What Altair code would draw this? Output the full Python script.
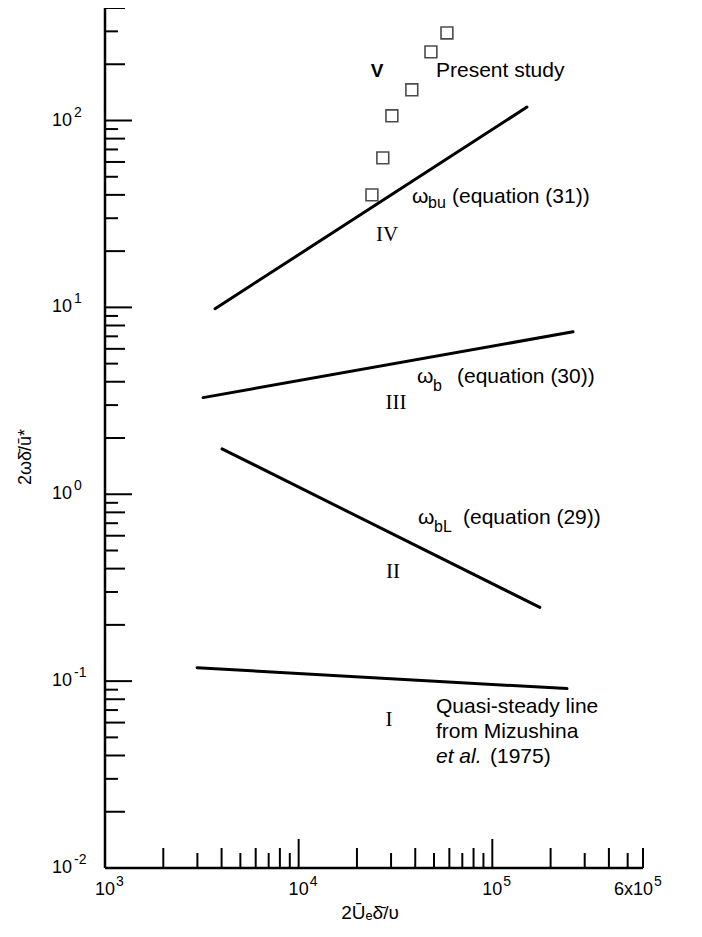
import altair as alt
import pandas as pd

# ---------------- data ----------------
X_DOMAIN = [1e3, 6e5]
Y_DOMAIN = [1e-2, 400]

line_names = ["I", "II", "III", "IV"]
line_x_start = [2990, 4020, 3210, 3700]
line_x_end = [243000, 176000, 261000, 151000]
line_y_start = [0.118, 1.75, 3.29, 9.83]
line_y_end = [0.0912, 0.248, 7.40, 118]

study_x = [23900, 27200, 30300, 38400, 48200, 58300]
study_y = [40.0, 63.1, 106, 146, 233, 294]

y_label_values = [0.01, 0.1, 1, 10, 100]
y_label_exps = ["-2", "-1", "0", "1", "2"]
x_label_values = [1e3, 1e4, 1e5, 6e5]
x_label_bases = ["10", "10", "10", "6x10"]
x_label_exps = ["3", "4", "5", "5"]

y_title = "2ωδ̄/ū*"
x_title = "2Ūₑδ̄/υ"

# annotation texts and their anchors (data units)
sans_texts = ["Present study", "ω", "(equation (31))", "ω", "(equation (30))",
              "ω", "(equation (29))", "Quasi-steady line", "from Mizushina", "(1975)"]
sans_x = [51200, 38480, 61900, 40840, 65700, 41320, 70580, 51200, 51200, 97300]
sans_y = [184, 39.0, 39.0, 4.255, 4.255, 0.7497, 0.7497, 0.0731, 0.0531, 0.0395]

sub_texts = ["bu", "b", "bL"]
sub_x = [46550, 49400, 49990]
sub_y = [36.0, 3.80, 0.665]

italic_texts = ["et al."]
italic_x = [51200]
italic_y = [0.0395]

roman_texts = ["IV", "III", "II", "I"]
roman_x = [28600, 31810, 30700, 29270]
roman_y = [24.4, 3.09, 0.3857, 0.0623]

bold_texts = ["V"]
bold_x = [25380]
bold_y = [184]

# ---------------- build chart ----------------
W, H = 538, 860
SANS = "Liberation Sans"
SERIF = "Liberation Serif"

xs = alt.Scale(type="log", domain=X_DOMAIN, nice=False)
ys = alt.Scale(type="log", domain=Y_DOMAIN, nice=False)

rows = []
for n, x0, x1, y0, y1 in zip(line_names, line_x_start, line_x_end, line_y_start, line_y_end):
    rows.append({"series": n, "x": x0, "y": y0})
    rows.append({"series": n, "x": x1, "y": y1})
lines_df = pd.DataFrame(rows)

lines = alt.Chart(lines_df).mark_line(color="black", strokeWidth=3, strokeCap="round").encode(
    x=alt.X("x:Q", scale=xs, axis=None),
    y=alt.Y("y:Q", scale=ys, axis=None),
    detail="series:N",
)

study = alt.Chart(pd.DataFrame({"x": study_x, "y": study_y})).mark_point(
    shape="square", filled=False, size=140, color="black", strokeWidth=1.6
).encode(x=alt.X("x:Q", scale=xs, axis=None), y=alt.Y("y:Q", scale=ys, axis=None))

one = pd.DataFrame({"a": [0]})

# axis lines
axis_y_line = alt.Chart(one).mark_rule(color="black", strokeWidth=2.5).encode(
    x=alt.value(0), y=alt.value(0), y2=alt.value(H))
axis_x_line = alt.Chart(one).mark_rule(color="black", strokeWidth=2.5).encode(
    x=alt.value(0), x2=alt.value(W), y=alt.value(H))


def tick_values(lo_exp, hi_exp, mults, vmin, vmax):
    out = []
    for e in range(lo_exp, hi_exp + 1):
        for m in mults:
            v = m * 10 ** e
            if vmin * 0.999 <= v <= vmax * 1.001:
                out.append(v)
    return out


layers = [axis_y_line, axis_x_line, lines, study]

# y ticks (pointing inward)
for mults, L in [([1], 27), ([2, 4, 6, 8], 20), ([3, 5, 7, 9], 13)]:
    vals = tick_values(-2, 2, mults, Y_DOMAIN[0], Y_DOMAIN[1])
    layers.append(
        alt.Chart(pd.DataFrame({"v": vals})).mark_rule(color="black", strokeWidth=2).encode(
            y=alt.Y("v:Q", scale=ys, axis=None), x=alt.value(0), x2=alt.value(L)
        )
    )
# x ticks (pointing upward)
for mults, L in [([1], 29), ([2, 4, 6, 8], 20), ([3, 5, 7, 9], 15)]:
    vals = tick_values(3, 5, mults, X_DOMAIN[0] * 1.01, X_DOMAIN[1])
    layers.append(
        alt.Chart(pd.DataFrame({"v": vals})).mark_rule(color="black", strokeWidth=2).encode(
            x=alt.X("v:Q", scale=xs, axis=None), y=alt.value(H), y2=alt.value(H - L)
        )
    )

# y labels
ylab = pd.DataFrame({"v": y_label_values, "e": y_label_exps})
layers.append(alt.Chart(ylab).mark_text(text="10", align="right", baseline="middle", font=SANS,
                                        fontSize=18, color="black").encode(
    y=alt.Y("v:Q", scale=ys, axis=None), x=alt.value(-33)))
layers.append(alt.Chart(ylab).mark_text(align="left", baseline="middle", font=SANS, fontSize=14,
                                        dy=-8, color="black").encode(
    y=alt.Y("v:Q", scale=ys, axis=None), x=alt.value(-31), text="e:N"))

# x labels
xlab = pd.DataFrame({"v": x_label_values, "b": x_label_bases, "e": x_label_exps})
layers.append(alt.Chart(xlab).mark_text(align="right", baseline="middle", font=SANS, fontSize=18,
                                        dx=10, color="black").encode(
    x=alt.X("v:Q", scale=xs, axis=None), y=alt.value(H + 22), text="b:N"))
layers.append(alt.Chart(xlab).mark_text(align="left", baseline="middle", font=SANS, fontSize=14,
                                        dx=11, dy=-8, color="black").encode(
    x=alt.X("v:Q", scale=xs, axis=None), y=alt.value(H + 22), text="e:N"))

# axis titles
layers.append(alt.Chart(one).mark_text(text=y_title, angle=270, align="center", baseline="middle",
                                       font=SANS, fontSize=18, color="black").encode(
    x=alt.value(-79), y=alt.value(449)))
layers.append(alt.Chart(one).mark_text(text=x_title, align="center", baseline="middle",
                                       font=SANS, fontSize=19, color="black").encode(
    x=alt.value(265), y=alt.value(905)))


def text_layer(texts, xv, yv, **kw):
    df = pd.DataFrame({"t": texts, "x": xv, "y": yv})
    return alt.Chart(df).mark_text(baseline="middle", color="black", **kw).encode(
        x=alt.X("x:Q", scale=xs, axis=None), y=alt.Y("y:Q", scale=ys, axis=None), text="t:N")


layers.append(text_layer(sans_texts, sans_x, sans_y, align="left", font=SANS, fontSize=21))
layers.append(text_layer(sub_texts, sub_x, sub_y, align="left", font=SANS, fontSize=16))
layers.append(text_layer(italic_texts, italic_x, italic_y, align="left", font=SANS, fontSize=21,
                         fontStyle="italic"))
layers.append(text_layer(roman_texts, roman_x, roman_y, align="center", font=SERIF, fontSize=21))
layers.append(text_layer(bold_texts, bold_x, bold_y, align="center", font=SANS, fontSize=19,
                         fontWeight="bold"))

chart = alt.layer(*layers).properties(
    width=W, height=H,
    autosize=alt.AutoSizeParams(type="none"),
    padding={"left": 97, "top": 0, "right": 45, "bottom": 60},
).configure(background="white").configure_view(stroke="transparent", strokeWidth=0)

chart.save("out.html", embed_options={"renderer": "svg", "actions": False})
